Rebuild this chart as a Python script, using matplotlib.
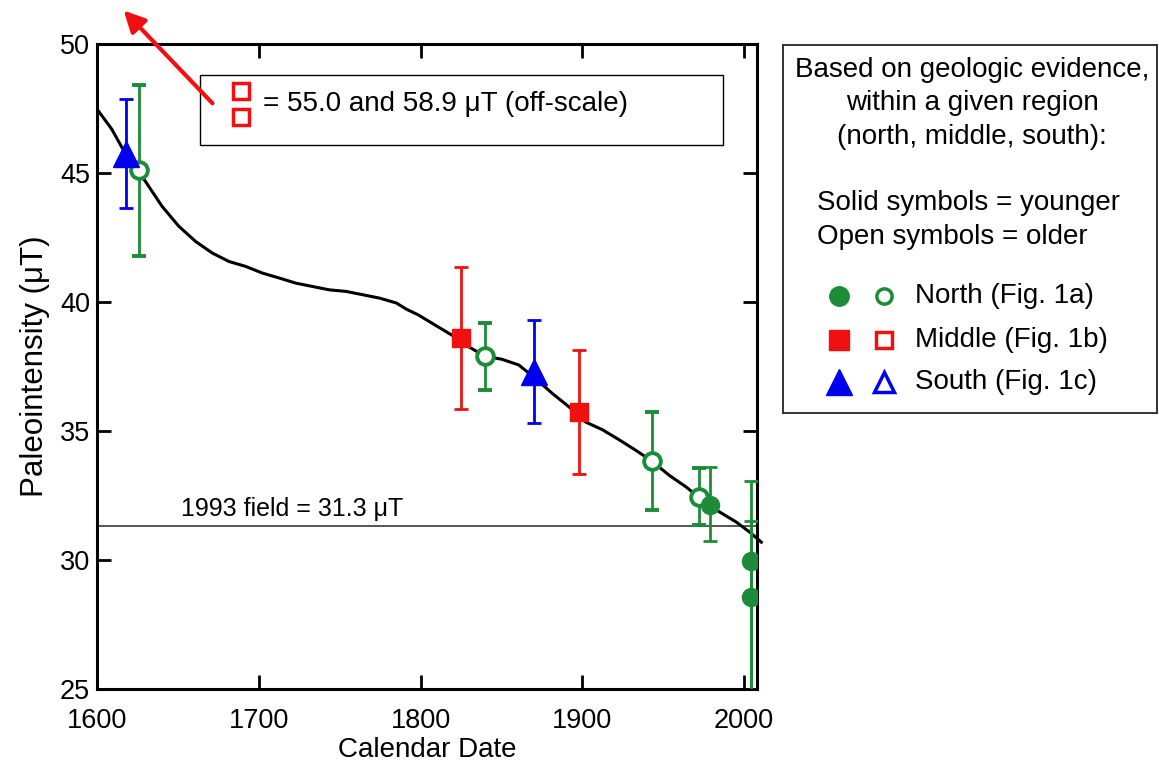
import matplotlib
matplotlib.use("Agg")
import matplotlib.pyplot as plt
from matplotlib.patches import Rectangle

plt.rcParams['font.family'] = ['Liberation Sans', 'DejaVu Sans']

# ---- data ----
curve_year = [1600.8, 1609.1, 1619.5, 1625.7, 1631.9, 1640.2, 1650.5, 1660.9, 1671.2,
              1681.6, 1691.9, 1702.3, 1712.6, 1723.0, 1733.3, 1743.7, 1754.0, 1764.4,
              1774.7, 1785.1, 1791.3, 1798.6, 1808.9, 1819.3, 1829.6, 1839.9, 1850.3,
              1860.7, 1871.0, 1881.4, 1891.7, 1902.0, 1912.4, 1922.8, 1933.1, 1942.9,
              1953.8, 1964.2, 1971.8, 1984.9, 1995.2, 2003.5, 2010.7]
curve_val = [47.41, 46.70, 45.53, 45.07, 44.49, 43.71, 42.94, 42.35, 41.90,
             41.57, 41.38, 41.12, 40.93, 40.73, 40.60, 40.47, 40.41, 40.28,
             40.15, 39.96, 39.72, 39.50, 39.11, 38.72, 38.27, 37.90, 37.78,
             37.56, 37.04, 36.46, 35.94, 35.35, 35.05, 34.66, 34.25, 33.84,
             33.28, 32.83, 32.44, 31.86, 31.47, 31.08, 30.69]

north_solid_year = [1979, 2004, 2004]
north_solid_val = [32.15, 29.95, 28.55]
north_solid_err_lo = [1.40, 5.40, 4.00]
north_solid_err_hi = [1.45, 3.10, 2.95]

north_open_year = [1626, 1840, 1943, 1972]
north_open_val = [45.1, 37.9, 33.85, 32.45]
north_open_err = [3.3, 1.3, 1.9, 1.1]

middle_solid_year = [1825, 1898]
middle_solid_val = [38.6, 35.75]
middle_solid_err = [2.75, 2.4]

south_solid_year = [1618, 1870]
south_solid_val = [45.75, 37.3]
south_solid_err = [2.1, 2.0]

offscale_values = [55.0, 58.9]
field_1993 = 31.3

xticks = [1600, 1700, 1800, 1900, 2000]
yticks = [25, 30, 35, 40, 45, 50]

GREEN = '#1c8c38'
RED = '#f01010'
BLUE = '#0000f0'

W, H = 1159, 762
fig = plt.figure(figsize=(W / 100, H / 100), dpi=100)
ax = fig.add_axes([97 / W, (H - 689) / H, (757 - 97) / W, (689 - 44) / H])

ax.set_xlim(1600, 2008)
ax.set_ylim(25, 50)

# curve
ax.plot(curve_year, curve_val, color='black', lw=2.2, zorder=3, clip_on=False)

# 1993 field
ax.axhline(field_1993, color='#555555', lw=1.4, zorder=2)
ax.text(1652, field_1993 + 0.22, '1993 field = %.1f μT' % field_1993, fontsize=18,
        va='bottom', ha='left')

eb = dict(capsize=5, elinewidth=2, capthick=2, ls='none', zorder=4)
ax.errorbar(north_open_year, north_open_val, yerr=north_open_err, color=GREEN,
            marker='o', ms=12, mfc='white', mec=GREEN, mew=2.8, **eb)
ax.errorbar(north_solid_year, north_solid_val,
            yerr=[north_solid_err_lo, north_solid_err_hi], color=GREEN,
            marker='o', ms=13, mfc=GREEN, mec=GREEN, **eb)
ax.errorbar(middle_solid_year, middle_solid_val, yerr=middle_solid_err, color=RED,
            marker='s', ms=12.5, mfc=RED, mec=RED, **eb)
ax.errorbar(south_solid_year, south_solid_val, yerr=south_solid_err, color=BLUE,
            marker='^', ms=19, mfc=BLUE, mec=BLUE, **eb)

# off-scale annotation box
ax.add_patch(Rectangle((1663.4, 46.1), 323.6, 2.7, facecolor='white',
                       edgecolor='black', lw=1, zorder=5))
ax.plot([1688.8, 1688.8], [48.17, 47.16], ls='none', marker='s', ms=11,
        mfc='white', mec=RED, mew=2.5, zorder=6)
ax.text(1702.5, 47.67, '= %.1f and %.1f μT (off-scale)' % tuple(offscale_values),
        fontsize=20, va='center', ha='left', zorder=6)
ax.annotate('', xy=(1616.5, 51.3), xytext=(1671.4, 47.7),
            arrowprops=dict(arrowstyle='-|>', color=RED, lw=3, mutation_scale=32,
                            shrinkA=0, shrinkB=0),
            annotation_clip=False, zorder=6)

# axes styling
ax.set_xticks(xticks)
ax.set_yticks(yticks)
ax.tick_params(direction='in', length=10, width=2, labelsize=19.5, top=True, right=True)
ax.tick_params(axis='x', pad=14)
ax.tick_params(axis='y', pad=5)
for s in ax.spines.values():
    s.set_linewidth(2.2)
ax.set_xlabel('Calendar Date', fontsize=20, labelpad=2)
ax.set_ylabel('Paleointensity (μT)', fontsize=22.5, labelpad=7)

# legend box
lg = fig.add_axes([783 / W, (H - 413) / H, (1157 - 783) / W, (413 - 45) / H])
lg.set_xlim(783, 1157)
lg.set_ylim(413, 45)
lg.set_xticks([])
lg.set_yticks([])
for s in lg.spines.values():
    s.set_linewidth(1.4)
    s.set_color('#333333')
for txt, yy in [('Based on geologic evidence,', 70), ('within a given region', 103),
                ('(north, middle, south):', 137)]:
    lg.text(972, yy, txt, fontsize=20, ha='center', va='center')
lg.text(817, 203, 'Solid symbols = younger', fontsize=20, ha='left', va='center')
lg.text(817, 237, 'Open symbols = older', fontsize=20, ha='left', va='center')
rows = [('North (Fig. 1a)', 296, 'o', GREEN, 14, 11),
        ('Middle (Fig. 1b)', 340, 's', RED, 14, 11),
        ('South (Fig. 1c)', 382, '^', BLUE, 19, 15)]
for label, yy, mk, col, ms_s, ms_o in rows:
    lg.plot([839], [yy], marker=mk, ms=ms_s, color=col, ls='none')
    lg.plot([884], [yy], marker=mk, ms=ms_o, mfc='white', mec=col, mew=2.5, ls='none')
    lg.text(915, yy, label, fontsize=20, ha='left', va='center')

fig.savefig('out.png', dpi=100)
